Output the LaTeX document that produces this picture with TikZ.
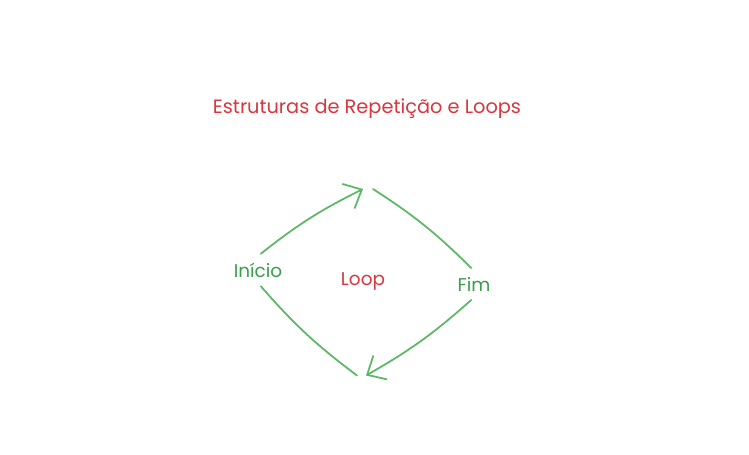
\documentclass[tikz,border=0pt]{standalone}
\usepackage{fontspec}
\setmainfont{Poppins}
\usetikzlibrary{arrows.meta}
\tikzset{
  lbl/.style={inner sep=0.08cm, outer sep=0.1cm, font=\fontsize{10.5}{12}\selectfont},
  edge/.style={draw=lineg, line width=1pt, line cap=round, bend left=6},
  head/.style={-{Straight Barb[length=3mm,width=5.5mm,line width=1pt]}}
}
\begin{document}
\begin{tikzpicture}
\definecolor{red}{HTML}{D9363E}
\definecolor{txtg}{HTML}{3A9E4C}
\definecolor{lineg}{HTML}{5DB866}
\useasboundingbox[fill=white] (0,0) rectangle (14.98,-9.10);
\node[lbl, text=red, font=\fontsize{11}{13}\selectfont] (title) at (7.34,-2.18) {Estruturas de Repetição e Loops};
\node[lbl, text=txtg] (inicio) at (5.16,-5.40) {Início};
\node[lbl, text=red] (loop) at (7.26,-5.62) {Loop};
\node[lbl, text=txtg] (fim) at (9.48,-5.68) {Fim};
\coordinate (top) at (7.36,-3.78);
\coordinate (bot) at (7.23,-7.51);
\draw[edge, head] (inicio.80) to ([xshift=-0.1cm]top);
\draw[edge] ([xshift=0.1cm]top) to (fim.100);
\draw[edge, head] (fim.260) to ([xshift=0.09cm]bot);
\draw[edge] ([xshift=-0.09cm]bot) to (inicio.280);
\end{tikzpicture}
\end{document}
